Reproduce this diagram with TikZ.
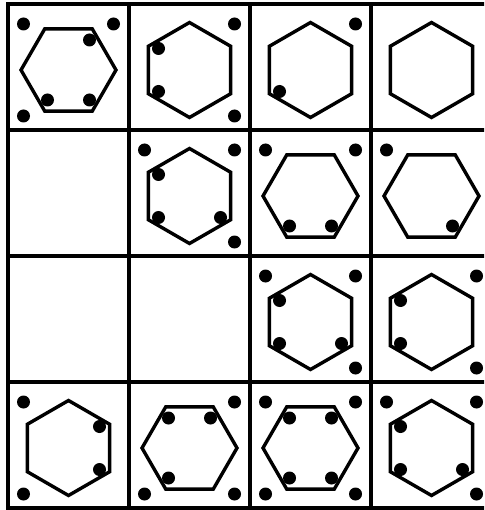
\documentclass[tikz,border=0pt]{standalone}
\definecolor{pzInk}{HTML}{000000}
\tikzset{pz/base/.style={x=1pt,y=1pt,line cap=butt,line join=miter},
  pz/grid/.style={draw=pzInk,line width=3.6pt},
  pz/hex/.style={draw=pzInk,line width=3.4pt,line join=miter},
  pz/dot/.style={fill=pzInk}}

\begin{document}
\begin{tikzpicture}[pz/base,y=-1pt]
  \useasboundingbox (0,0) rectangle (484,510);
  \clip (0,0) rectangle (484,510);
  % grid of cells, right edge runs off the page
  \draw[pz/grid] (8,4) rectangle (492,508);
  \foreach \x in {129,250,371}{\draw[pz/grid] (\x,4)--(\x,508);}
  \foreach \y in {130,256,382}{\draw[pz/grid] (8,\y)--(492,\y);}
  % hexagons: 0 = flat top, 30 = pointy top
  \foreach \c/\r/\t in {1/1/0,2/1/30,3/1/30,4/1/30,
    2/2/30,3/2/0,4/2/0,3/3/30,4/3/30,1/4/30,2/4/0,3/4/0,4/4/30}{
    \begin{scope}[shift={({68.5+121*(\c-1)},{70+126*(\r-1)})}]
      \draw[pz/hex] (\t:47.5)--({\t+60}:47.5)--({\t+120}:47.5)--({\t+180}:47.5)
        --({\t+240}:47.5)--({\t+300}:47.5)--cycle;
    \end{scope}}
  % dots in the cell corners
  \foreach \c/\r/\sx/\sy in {1/1/-1/-1,1/1/1/-1,1/1/-1/1,2/1/1/-1,2/1/1/1,3/1/1/-1,
    2/2/-1/-1,2/2/1/-1,2/2/1/1,3/2/-1/-1,3/2/1/-1,4/2/-1/-1,
    3/3/-1/-1,3/3/1/-1,3/3/1/1,4/3/1/-1,4/3/1/1,1/4/-1/-1,1/4/-1/1,
    2/4/1/-1,2/4/-1/1,2/4/1/1,3/4/-1/-1,3/4/1/-1,3/4/-1/1,3/4/1/1,
    4/4/-1/-1,4/4/1/-1,4/4/1/1}{
    \fill[pz/dot] ({68.5+121*(\c-1)+45*(\sx)},{70+126*(\r-1)+46*(\sy)}) circle[radius=6.5];}
  % dots inside the hexagons
  \foreach \c/\r/\dx/\dy in {1/1/21/-30,1/1/-21/30,1/1/21/30,
    2/1/-31/-21.5,2/1/-31/21.5,3/1/-31/21.5,
    2/2/-31/-21.5,2/2/-31/21.5,2/2/31/21.5,3/2/-21/30,3/2/21/30,4/2/21/30,
    3/3/-31/-21.5,3/3/-31/21.5,3/3/31/21.5,4/3/-31/-21.5,4/3/-31/21.5,
    1/4/31/-21.5,1/4/31/21.5,2/4/-21/-30,2/4/21/-30,2/4/-21/30,
    3/4/-21/-30,3/4/21/-30,3/4/-21/30,3/4/21/30,
    4/4/-31/-21.5,4/4/-31/21.5,4/4/31/21.5}{
    \fill[pz/dot] ({68.5+121*(\c-1)+(\dx)},{70+126*(\r-1)+(\dy)}) circle[radius=6.5];}
\end{tikzpicture}
\end{document}
